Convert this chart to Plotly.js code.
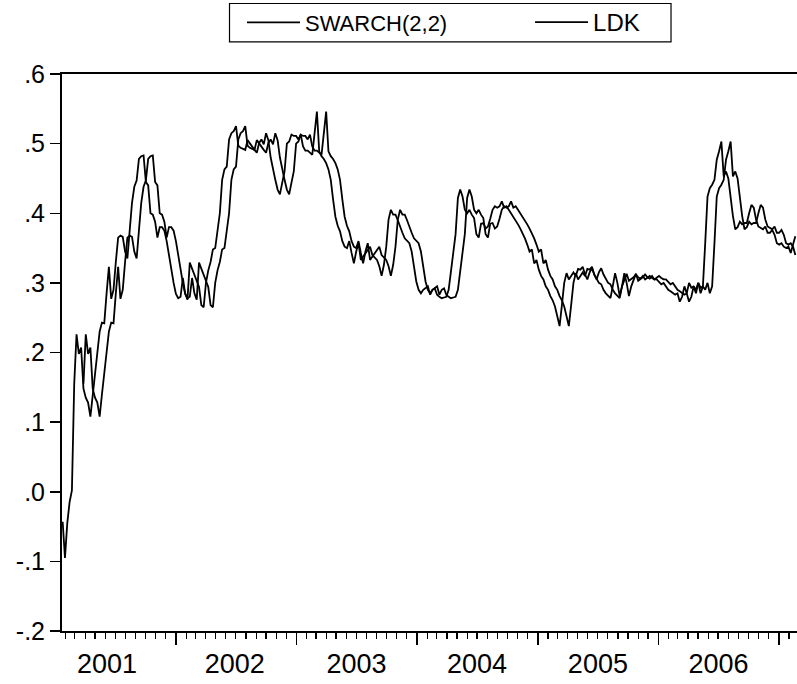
<!DOCTYPE html>
<html>
<head>
<meta charset="utf-8">
<script src="https://cdn.plot.ly/plotly-3.0.1.min.js"></script>
<style>html,body{margin:0;padding:0;background:#fff;overflow:hidden;}#chart{width:797px;height:684px;}</style>
</head>
<body>
<div id="chart"></div>
<script>
var startDate = '2001-01-23';
var seriesNames = ['SWARCH(2,2)', 'LDK'];
var swarch = [
-0.043,-0.095,-0.045,-0.015,0.002,0.155,0.226,0.198,0.207,0.148,
0.135,0.128,0.108,0.140,0.170,0.200,0.230,0.243,0.242,0.285,
0.323,0.277,0.290,0.330,0.365,0.368,0.366,0.345,0.335,0.375,
0.415,0.438,0.447,0.478,0.482,0.483,0.445,0.440,0.400,0.398,
0.388,0.365,0.380,0.380,0.375,0.360,0.340,0.315,0.300,0.284,
0.278,0.280,0.307,0.285,0.276,0.329,0.320,0.312,0.305,0.294,
0.268,0.265,0.300,0.318,0.330,0.348,0.350,0.372,0.400,0.448,
0.463,0.467,0.506,0.515,0.518,0.525,0.497,0.494,0.492,0.491,
0.505,0.500,0.495,0.491,0.487,0.501,0.506,0.499,0.515,0.505,
0.480,0.462,0.448,0.434,0.427,0.444,0.460,0.500,0.503,0.513,
0.511,0.511,0.506,0.513,0.496,0.490,0.490,0.487,0.484,0.515,
0.546,0.489,0.482,0.478,0.472,0.463,0.448,0.420,0.395,0.382,
0.374,0.360,0.352,0.350,0.360,0.343,0.328,0.345,0.357,0.333,
0.338,0.342,0.348,0.352,0.340,0.336,0.333,0.324,0.310,0.326,
0.352,0.391,0.405,0.398,0.398,0.390,0.380,0.372,0.364,0.360,
0.357,0.345,0.324,0.302,0.290,0.285,0.290,0.292,0.295,0.283,
0.290,0.292,0.283,0.280,0.278,0.279,0.280,0.290,0.315,0.343,
0.370,0.422,0.434,0.424,0.405,0.400,0.405,0.398,0.393,0.370,
0.365,0.385,0.386,0.378,0.381,0.392,0.405,0.410,0.408,0.410,
0.417,0.408,0.410,0.405,0.400,0.395,0.390,0.384,0.378,0.372,
0.364,0.355,0.345,0.348,0.328,0.333,0.319,0.310,0.305,0.295,
0.290,0.281,0.275,0.266,0.250,0.238,0.268,0.300,0.314,0.305,
0.310,0.315,0.310,0.320,0.319,0.323,0.312,0.305,0.315,0.321,
0.312,0.305,0.300,0.298,0.290,0.285,0.281,0.278,0.295,0.314,
0.300,0.281,0.295,0.305,0.313,0.303,0.305,0.308,0.312,0.308,
0.306,0.310,0.305,0.308,0.310,0.307,0.305,0.305,0.302,0.298,
0.300,0.295,0.290,0.288,0.285,0.283,0.285,0.273,0.280,0.295,
0.285,0.300,0.293,0.295,0.290,0.300,0.285,0.295,0.357,0.424,
0.436,0.441,0.448,0.477,0.489,0.503,0.453,0.460,0.450,0.420,
0.396,0.377,0.380,0.388,0.384,0.386,0.386,0.400,0.412,0.408,
0.391,0.381,0.379,0.377,0.381,0.372,0.372,0.376,0.369,0.357,
0.355,0.357,0.352,0.350,0.352,0.343,0.355,0.367
];
var ldk = [
null,null,null,null,null,null,null,null,null,0.155,
0.226,0.198,0.207,0.148,0.135,0.128,0.108,0.140,0.170,0.200,
0.230,0.243,0.242,0.285,0.323,0.277,0.290,0.330,0.365,0.368,
0.366,0.345,0.335,0.375,0.415,0.438,0.447,0.478,0.482,0.483,
0.445,0.440,0.400,0.398,0.388,0.365,0.380,0.380,0.375,0.360,
0.340,0.315,0.300,0.284,0.278,0.280,0.307,0.285,0.276,0.329,
0.320,0.312,0.305,0.294,0.268,0.265,0.300,0.318,0.330,0.348,
0.350,0.372,0.400,0.448,0.463,0.467,0.506,0.515,0.518,0.525,
0.497,0.494,0.492,0.491,0.505,0.500,0.495,0.491,0.487,0.501,
0.506,0.499,0.515,0.505,0.480,0.462,0.448,0.434,0.427,0.444,
0.460,0.500,0.503,0.513,0.511,0.511,0.506,0.513,0.496,0.490,
0.490,0.487,0.484,0.515,0.546,0.489,0.482,0.478,0.472,0.463,
0.448,0.420,0.395,0.382,0.374,0.360,0.352,0.350,0.360,0.343,
0.328,0.345,0.357,0.333,0.338,0.342,0.348,0.352,0.340,0.336,
0.333,0.324,0.310,0.326,0.352,0.391,0.405,0.398,0.398,0.390,
0.380,0.372,0.364,0.360,0.357,0.345,0.324,0.302,0.290,0.285,
0.290,0.292,0.295,0.283,0.290,0.292,0.283,0.280,0.278,0.279,
0.280,0.290,0.315,0.343,0.370,0.422,0.434,0.424,0.405,0.400,
0.405,0.398,0.393,0.370,0.365,0.385,0.386,0.378,0.381,0.392,
0.405,0.410,0.408,0.410,0.417,0.408,0.410,0.405,0.400,0.395,
0.390,0.384,0.378,0.372,0.364,0.355,0.345,0.348,0.328,0.333,
0.319,0.310,0.305,0.295,0.290,0.281,0.275,0.266,0.250,0.238,
0.268,0.300,0.314,0.305,0.310,0.315,0.310,0.320,0.319,0.323,
0.312,0.305,0.315,0.321,0.312,0.305,0.300,0.298,0.290,0.285,
0.281,0.278,0.295,0.314,0.300,0.281,0.295,0.305,0.313,0.303,
0.305,0.308,0.312,0.308,0.306,0.310,0.305,0.308,0.310,0.307,
0.305,0.305,0.302,0.298,0.300,0.295,0.290,0.288,0.285,0.283,
0.285,0.273,0.280,0.295,0.285,0.300,0.293,0.295,0.290,0.300,
0.285,0.295,0.357,0.424,0.436,0.441,0.448,0.477,0.489,0.503,
0.453,0.460,0.450,0.420,0.396,0.377,0.380,0.388,0.384,0.386,
0.386,0.400,0.412,0.408,0.391,0.381,0.379,0.377,0.381,0.372,
0.372,0.376,0.369,0.357,0.355,0.357,0.352,0.340
];
var yTickVals = [-0.2,-0.1,0.0,0.1,0.2,0.3,0.4,0.5,0.6];
var yTickText = ['-.2','-.1','.0','.1','.2','.3','.4','.5','.6'];
var yearLabels = ['2001','2002','2003','2004','2005','2006'];
var yearLabelDates = ['2001-06-06','2002-06-28','2003-07-02','2004-07-01','2005-07-02','2006-07-02'];

// weekly observation dates
var dates = [];
var t0 = Date.parse(startDate + 'T00:00:00Z');
for (var i = 0; i < swarch.length; i++) {
  dates.push(new Date(t0 + i * 7 * 86400000).toISOString().slice(0, 10));
}

var font = 'Liberation Sans, Arial, Helvetica, sans-serif';
var xRange = ['2001-01-21', '2007-02-25'];
var traces = [
  {x: dates, y: swarch, type: 'scatter', mode: 'lines', name: seriesNames[0],
   line: {color: '#000', width: 1.8}, legend: 'legend', xaxis: 'x', yaxis: 'y'},
  {x: dates, y: ldk, type: 'scatter', mode: 'lines', name: seriesNames[1],
   line: {color: '#000', width: 1.8}, legend: 'legend2', xaxis: 'x2', yaxis: 'y'}
];
var legendCommon = {orientation: 'h', yanchor: 'middle', y: 1.0925, xanchor: 'left',
  borderwidth: 0, bgcolor: 'rgba(0,0,0,0)', itemwidth: 53};
var layout = {
  width: 797, height: 684,
  margin: {l: 62, r: 0, t: 74, b: 53},
  paper_bgcolor: '#fff', plot_bgcolor: '#fff',
  font: {family: font, size: 26, color: '#000'},
  showlegend: true,
  legend: Object.assign({}, legendCommon, {x: 0.2449, font: {family: font, size: 22, color: '#000'}}),
  legend2: Object.assign({}, legendCommon, {x: 0.6368, font: {family: font, size: 24, color: '#000'}}),
  shapes: [{type: 'rect', xref: 'paper', yref: 'paper', x0: 0.2279, x1: 0.8286, y0: 1.0575, y1: 1.1266,
            line: {color: '#000', width: 1.2}, fillcolor: 'rgba(0,0,0,0)'}],
  xaxis: {type: 'date', range: xRange,
          tick0: '2001-01-01', dtick: 'M12', showticklabels: false,
          ticks: 'outside', ticklen: 12, tickwidth: 1.5, tickcolor: '#000',
          minor: {dtick: 'M1', tick0: '2001-01-01', ticks: 'outside', ticklen: 6, tickwidth: 1.2, tickcolor: '#000', showgrid: false},
          showline: true, linecolor: '#000', linewidth: 2, mirror: true,
          showgrid: false, zeroline: false},
  xaxis2: {type: 'date', range: xRange, overlaying: 'x', anchor: 'y', side: 'bottom',
           tickmode: 'array', tickvals: yearLabelDates, ticktext: yearLabels,
           ticks: '', showline: false, showgrid: false, zeroline: false,
           ticklabelstandoff: 14,
           tickfont: {family: font, size: 27, color: '#000'}},
  yaxis: {range: [-0.2, 0.6], tickvals: yTickVals, ticktext: yTickText,
          ticks: 'outside', ticklen: 10, tickwidth: 1.5, tickcolor: '#000',
          showline: true, linecolor: '#000', linewidth: 2,
          showgrid: false, zeroline: false,
          tickfont: {family: font, size: 25, color: '#000'}}
};
Plotly.newPlot('chart', traces, layout, {displayModeBar: false, staticPlot: true});
</script>
</body>
</html>
